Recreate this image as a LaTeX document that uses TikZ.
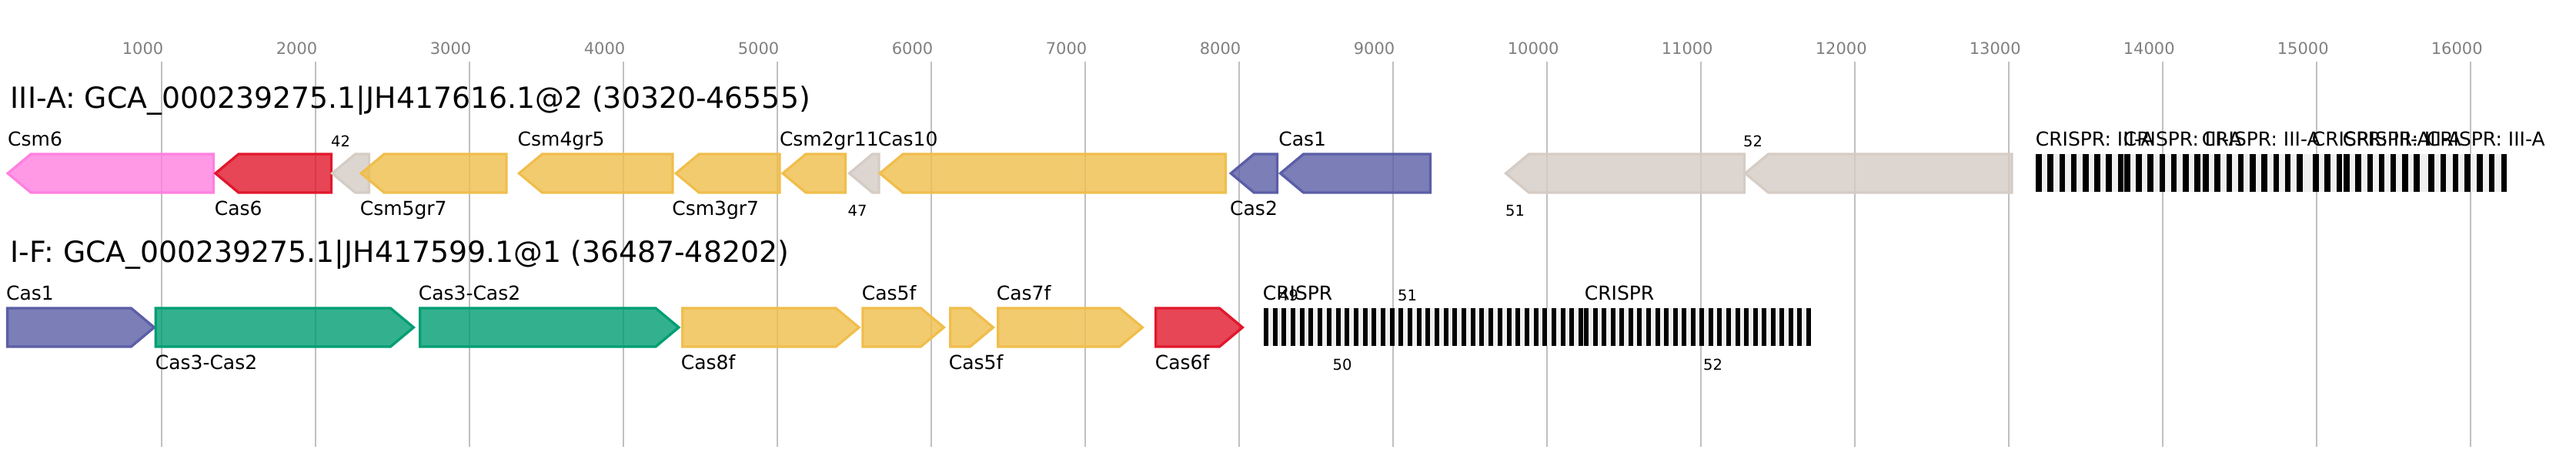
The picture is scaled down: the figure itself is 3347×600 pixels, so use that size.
\documentclass[tikz,border=0pt]{standalone}
\usepackage{fontspec}
\setmainfont{DejaVu Sans}
\definecolor{cpink}{HTML}{FF80E0}
\definecolor{cred}{HTML}{E1182C}
\definecolor{cyel}{HTML}{F0BE4C}
\definecolor{cgray}{HTML}{D5CCC5}
\definecolor{cblue}{HTML}{5B5EA6}
\definecolor{cgreen}{HTML}{009E73}
\definecolor{gridc}{HTML}{C0C0C0}
\definecolor{tickc}{HTML}{808080}
\definecolor{crbg}{HTML}{F0F0F0}
\tikzset{
  gene/.style={line width=3.3pt, line join=miter, fill opacity=0.8},
  gridln/.style={draw=gridc, line width=2pt},
  lab/.style={anchor=base west, inner sep=0pt, font=\fontsize{25}{30}\selectfont},
  smalllab/.style={anchor=base west, inner sep=0pt, font=\fontsize{19.5}{23}\selectfont},
  ticklab/.style={anchor=base west, inner sep=0pt, text=tickc, font=\fontsize{21}{25}\selectfont},
  titlelab/.style={anchor=base west, inner sep=0pt, font=\fontsize{37.8}{45}\selectfont},
}
% left-pointing gene: tip, right, ycenter, colour
\newcommand\genL[4]{%
  \pgfmathsetmacro\gsh{min(#1+30,#2)}%
  \draw[gene,draw=#4,fill=#4] (#1,#3) -- (\gsh,#3-25) -- (#2,#3-25) -- (#2,#3+25) -- (\gsh,#3+25) -- cycle;}
% right-pointing gene: left, tip, ycenter, colour
\newcommand\genR[4]{%
  \pgfmathsetmacro\gsh{max(#2-30,#1)}%
  \draw[gene,draw=#4,fill=#4] (#1,#3-25) -- (\gsh,#3-25) -- (#2,#3) -- (\gsh,#3+25) -- (#1,#3+25) -- cycle;}
% CRISPR bars: first start, last start, count-1, width, ytop, ybot
\newcommand\crbars[6]{%
  \pgfmathsetmacro\cq{(#2-#1)/#3}%
  \foreach \k in {0,...,#3} {\fill[black] ({#1+\k*\cq},#5) rectangle ({#1+\k*\cq+#4},#6);}}
\begin{document}
\begin{tikzpicture}[x=1pt,y=-1pt]
\useasboundingbox (0,0) rectangle (3347,600);
\fill[white] (0,0) rectangle (3347,600);
% grid and ticks
\foreach \k [evaluate=\k as \lab using int(1000*\k)] in {1,...,16} {
  \draw[gridln] ({9.6+200*\k},80) -- ({9.6+200*\k},580);
  \node[ticklab] (tick\k) at ({9.6+200*\k-51},70) {\lab};
}
% ---------- row 1 ----------
\node[titlelab] (title1) at (13.5,140) {III-A: GCA\_000239275.1|JH417616.1@2 (30320-46555)};
\genL{10.2}{277.4}{225}{cpink}
\genL{280}{430.4}{225}{cred}
\genL{431.6}{479.4}{225}{cgray}
\genL{469.2}{657.9}{225}{cyel}
\genL{674.5}{874}{225}{cyel}
\genL{878.3}{1012.9}{225}{cyel}
\genL{1017.1}{1098.4}{225}{cyel}
\genL{1103.6}{1141.9}{225}{cgray}
\genL{1143.3}{1592.4}{225}{cyel}
\genL{1599.3}{1659.4}{225}{cblue}
\genL{1663.6}{1858.4}{225}{cblue}
\genL{1956.6}{2266.4}{225}{cgray}
\genL{2267.6}{2613.9}{225}{cgray}
\fill[crbg] (2645,200) rectangle (3257,249.3);
\crbars{2645}{2751.7}{7}{7.5}{200}{249.3}
\crbars{2760}{2851.4}{6}{7.5}{200}{249.3}
\crbars{2862}{2984}{8}{7.5}{200}{249.3}
\crbars{3005}{3035.5}{2}{7.5}{200}{249.3}
\crbars{3045}{3136.4}{6}{7.5}{200}{249.3}
\crbars{3155}{3249.5}{6}{7.5}{200}{249.3}
\node[lab] (l1a) at (10,189) {Csm6};
\node[lab] (l1b) at (278.6,279) {Cas6};
\node[smalllab] (l1c) at (430,190) {42};
\node[lab] (l1d) at (467.6,279) {Csm5gr7};
\node[lab] (l1e) at (672.5,189) {Csm4gr5};
\node[lab] (l1f) at (873.1,279) {Csm3gr7};
\node[lab] (l1g) at (1012.8,189) {Csm2gr11};
\node[smalllab] (l1h) at (1101.5,280) {47};
\node[lab] (l1i) at (1140.6,189) {Cas10};
\node[lab] (l1j) at (1598,279) {Cas2};
\node[lab] (l1k) at (1661.2,189) {Cas1};
\node[smalllab] (l1l) at (1956,280) {51};
\node[smalllab] (l1m) at (2265,190) {52};
\node[lab] (cr1) at (2644.6,189) {CRISPR: III-A};
\node[lab] (cr2) at (2758.6,189) {CRISPR: III-A};
\node[lab] (cr3) at (2860.6,189) {CRISPR: III-A};
\node[lab] (cr4) at (3003.6,189) {CRISPR: III-A};
\node[lab] (cr5) at (3043.6,189) {CRISPR: III-A};
\node[lab] (cr6) at (3152.6,189) {CRISPR: III-A};
% ---------- row 2 ----------
\node[titlelab] (title2) at (13.5,340) {I-F: GCA\_000239275.1|JH417599.1@1 (36487-48202)};
\genR{9.6}{200.4}{425}{cblue}
\genR{202.2}{537.4}{425}{cgreen}
\genR{545.7}{881.9}{425}{cgreen}
\genR{886.7}{1116}{425}{cyel}
\genR{1121}{1226.4}{425}{cyel}
\genR{1234.7}{1290.4}{425}{cyel}
\genR{1296.7}{1484.4}{425}{cyel}
\genR{1501.7}{1614.4}{425}{cred}
\fill[crbg] (1642,400) rectangle (2353,449.3);
\crbars{1642}{2051}{35}{6}{400}{449.3}
\crbars{2058}{2347}{25}{6}{400}{449.3}
\node[lab] (l2a) at (8,389) {Cas1};
\node[lab] (l2b) at (201.6,479) {Cas3-Cas2};
\node[lab] (l2c) at (543.6,389) {Cas3-Cas2};
\node[lab] (l2d) at (884.6,479) {Cas8f};
\node[lab] (l2e) at (1119.6,389) {Cas5f};
\node[lab] (l2f) at (1232.6,479) {Cas5f};
\node[lab] (l2g) at (1294.6,389) {Cas7f};
\node[lab] (l2h) at (1500.6,479) {Cas6f};
\node[lab] (cr7) at (1640.6,389) {CRISPR};
\node[smalllab] (n49) at (1662,390) {49};
\node[smalllab] (n51) at (1816,390) {51};
\node[lab] (cr8) at (2058.6,389) {CRISPR};
\node[smalllab] (n50) at (1731.5,480) {50};
\node[smalllab] (n52) at (2213,480) {52};
\end{tikzpicture}
\end{document}
